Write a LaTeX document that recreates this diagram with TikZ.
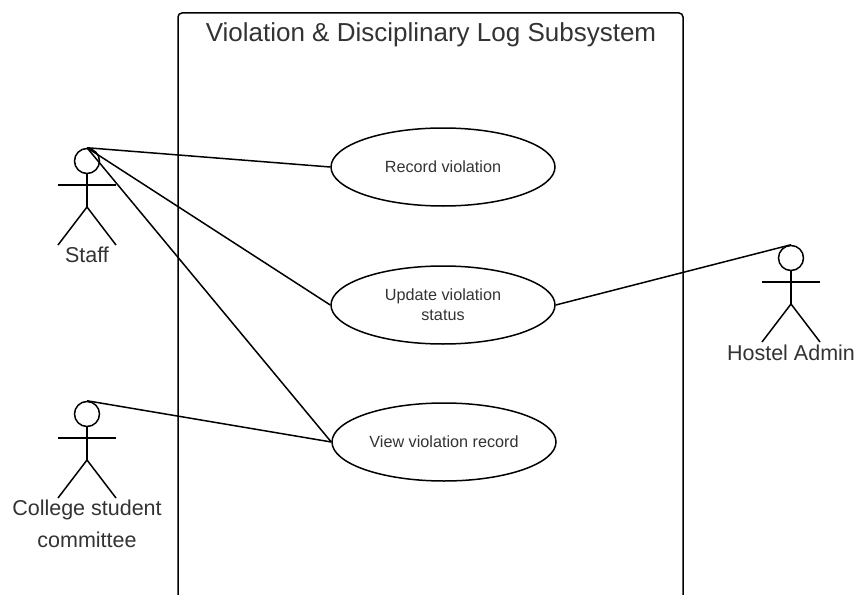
\documentclass[tikz,border=0pt]{standalone}
\usepackage{fontspec}
\setmainfont{Liberation Sans}
\definecolor{labelgray}{HTML}{333333}
\tikzset{
    usecase/.style={draw,ellipse,line width=1.5pt,inner sep=0pt,align=center,minimum width=224pt,minimum height=78pt,font=\fontsize{16.2}{20}\selectfont,text=labelgray},
    actorhead/.style={draw,circle,line width=1.5pt,minimum size=25pt,inner sep=0pt},
    actorlabel/.style={align=center,font=\fontsize{21.5}{32}\selectfont,text=labelgray,inner sep=0pt}
}
\usetikzlibrary{shapes.geometric}
\begin{document}
\begin{tikzpicture}[x=1pt,y=1pt,line width=1.5pt]
        \useasboundingbox (0,0) rectangle (856,-594);
        \fill[white] (0,0) rectangle (856,-594);
        % system box runs off the bottom
        \begin{scope}
            \clip (0,0) rectangle (856,-594);
            \draw[rounded corners=4pt] (178,-620) -- (178,-13) -- (683,-13) -- (683,-620);
        \end{scope}
        \node[font=\fontsize{26}{30}\selectfont,text=labelgray,inner sep=0pt] (title) at (431,-35) {Violation \& Disciplinary Log Subsystem};
        \node[usecase] (record) at (443,-167) {Record violation};
        \node[usecase] (update) at (443,-305) {Update violation\\status};
        \node[usecase] (view) at (444,-442) {View violation record};
        % actors
        \foreach \name/\x/\y in {staff/87/-161,committee/87/-414,admin/791/-258} {
            \node[actorhead] (\name) at (\x,\y) {};
            \coordinate (\name hip) at (\x,\y-46);
            \draw (\name.south) -- (\name hip);
            \draw (\x-29,\y-24) -- (\x+29,\y-24);
            \draw (\x-29,\y-84) -- (\name hip) -- (\x+29,\y-84);
        }
        \node[actorlabel] (stafflabel) at (87,-255) {Staff};
        \node[actorlabel] (committeelabel) at (87,-524) {College student\\committee};
        \node[actorlabel] (adminlabel) at (791,-353) {Hostel Admin};
        % associations
        \draw (staff.north) -- (record.west);
        \draw (staff.north) -- (update.west);
        \draw (staff.north) -- (view.west);
        \draw (committee.north) -- (view.west);
        \draw (update.east) -- (admin.north);
    \end{tikzpicture}
\end{document}
